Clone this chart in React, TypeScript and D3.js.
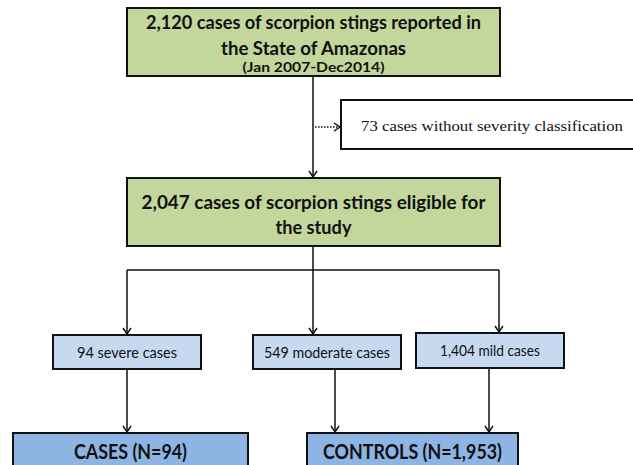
import React, { useEffect, useRef } from 'react';
import * as d3 from 'd3';

// labels and counts shown in the flowchart
const topLines = ['2,120 cases of scorpion stings reported in', 'the State of Amazonas', '(Jan 2007-Dec2014)'];
const excludedLabel = ['73 cases without severity classification'];
const eligibleLines = ['2,047 cases of scorpion stings eligible for', 'the study'];
const severityLabels = ['94 severe cases', '549 moderate cases', '1,404 mild cases'];
const groupLabels = ['CASES (N=94)', 'CONTROLS (N=1,953)'];

const SANS = 'Lato, "Open Sans", sans-serif';
const SERIF = '"Liberation Serif", "DejaVu Serif", serif';

function App() {
  const ref = useRef<SVGSVGElement | null>(null);

  useEffect(() => {
    const svg = d3.select(ref.current);
    svg.selectAll('*').remove();

    const green = '#c3d69b';
    const lightBlue = '#c6d9f1';
    const blue = '#8eb4e3';

    // box geometry
    const topBox = { x: 127, y: 8, w: 373, h: 68 };
    const sideBox = { x: 341, y: 100, w: 300, h: 49 };
    const midBox = { x: 127, y: 178, w: 373, h: 68 };
    const sevBoxes = [
      { x: 53, y: 335, w: 148, h: 34 },
      { x: 253, y: 335, w: 148, h: 34 },
      { x: 416, y: 333, w: 148, h: 35 },
    ];
    const grpBoxes = [
      { x: 13, y: 433, w: 235, h: 50 },
      { x: 307, y: 433, w: 211, h: 50 },
    ];

    const box = (b: any, fill: string) =>
      svg.append('rect')
        .attr('x', b.x).attr('y', b.y).attr('width', b.w).attr('height', b.h)
        .attr('fill', fill).attr('stroke', '#111').attr('stroke-width', 2);

    const line = (pts: [number, number][], dashed = false) => {
      svg.append('path')
        .attr('d', d3.line()(pts))
        .attr('fill', 'none').attr('stroke', '#111').attr('stroke-width', 1.5)
        .attr('stroke-dasharray', dashed ? '1.5,1.5' : null);
    };
    const arrowDown = (x: number, y: number) =>
      line([[x - 4, y - 6], [x, y], [x + 4, y - 6]]);
    const arrowRight = (x: number, y: number) =>
      line([[x - 6, y - 4], [x, y], [x - 6, y + 4]]);

    const text = (t: string, x: number, y: number, size: number, weight: string, family: string, len?: number) => {
      const el = svg.append('text')
        .attr('x', x).attr('y', y)
        .attr('text-anchor', 'middle')
        .attr('font-family', family)
        .attr('font-size', size)
        .attr('font-weight', weight)
        .attr('fill', '#111')
        .text(t);
      if (len) el.attr('textLength', len).attr('lengthAdjust', 'spacingAndGlyphs');
    };

    // connectors
    const cx = 313;
    line([[cx, topBox.y + topBox.h], [cx, midBox.y - 1]]);
    arrowDown(cx, midBox.y - 1);
    line([[cx + 2, 127], [sideBox.x - 2, 127]], true);
    arrowRight(sideBox.x - 1, 127);

    line([[cx, midBox.y + midBox.h], [cx, 270]]);
    line([[127, 270], [499, 270]]);
    const branchX = [127, 313, 499];
    branchX.forEach((x, i) => {
      line([[x, 270], [x, sevBoxes[i].y - 1]]);
      arrowDown(x, sevBoxes[i].y - 1);
    });

    const downX = [127, 335, 489];
    const target = [0, 1, 1];
    downX.forEach((x, i) => {
      const b = sevBoxes[i];
      const g = grpBoxes[target[i]];
      line([[x, b.y + b.h], [x, g.y - 1]]);
      arrowDown(x, g.y - 1);
    });

    // boxes
    box(topBox, green);
    box(sideBox, '#fff');
    box(midBox, green);
    sevBoxes.forEach(b => box(b, lightBlue));
    grpBoxes.forEach(b => box(b, blue));

    // texts
    const tcx = topBox.x + topBox.w / 2;
    text(topLines[0], tcx, 29, 18.5, 'bold', SANS, 335);
    text(topLines[1], tcx, 55, 18.5, 'bold', SANS, 185);
    text(topLines[2], tcx, 72, 12.5, 'bold', SANS, 142);

    text(excludedLabel[0], 492, 131, 15.5, 'normal', SERIF, 262);

    const mcx = midBox.x + midBox.w / 2;
    text(eligibleLines[0], mcx, 209, 18.5, 'bold', SANS, 344);
    text(eligibleLines[1], mcx, 234, 18.5, 'bold', SANS, 76);

    const sevLens = [100, 126, 100];
    severityLabels.forEach((t, i) => {
      const b = sevBoxes[i];
      text(t, b.x + b.w / 2, b.y + b.h / 2 + 5.5, 15.5, 'normal', SANS, sevLens[i]);
    });

    const grpLens = [113, 179];
    groupLabels.forEach((t, i) => {
      const b = grpBoxes[i];
      text(t, b.x + b.w / 2, 459, 20.5, 'bold', SANS, grpLens[i]);
    });
  }, []);

  return (
    <svg ref={ref} width={633} height={465}
      style={{ position: 'absolute', left: 0, top: 0, background: '#fff' }} />
  );
}

export default App;
